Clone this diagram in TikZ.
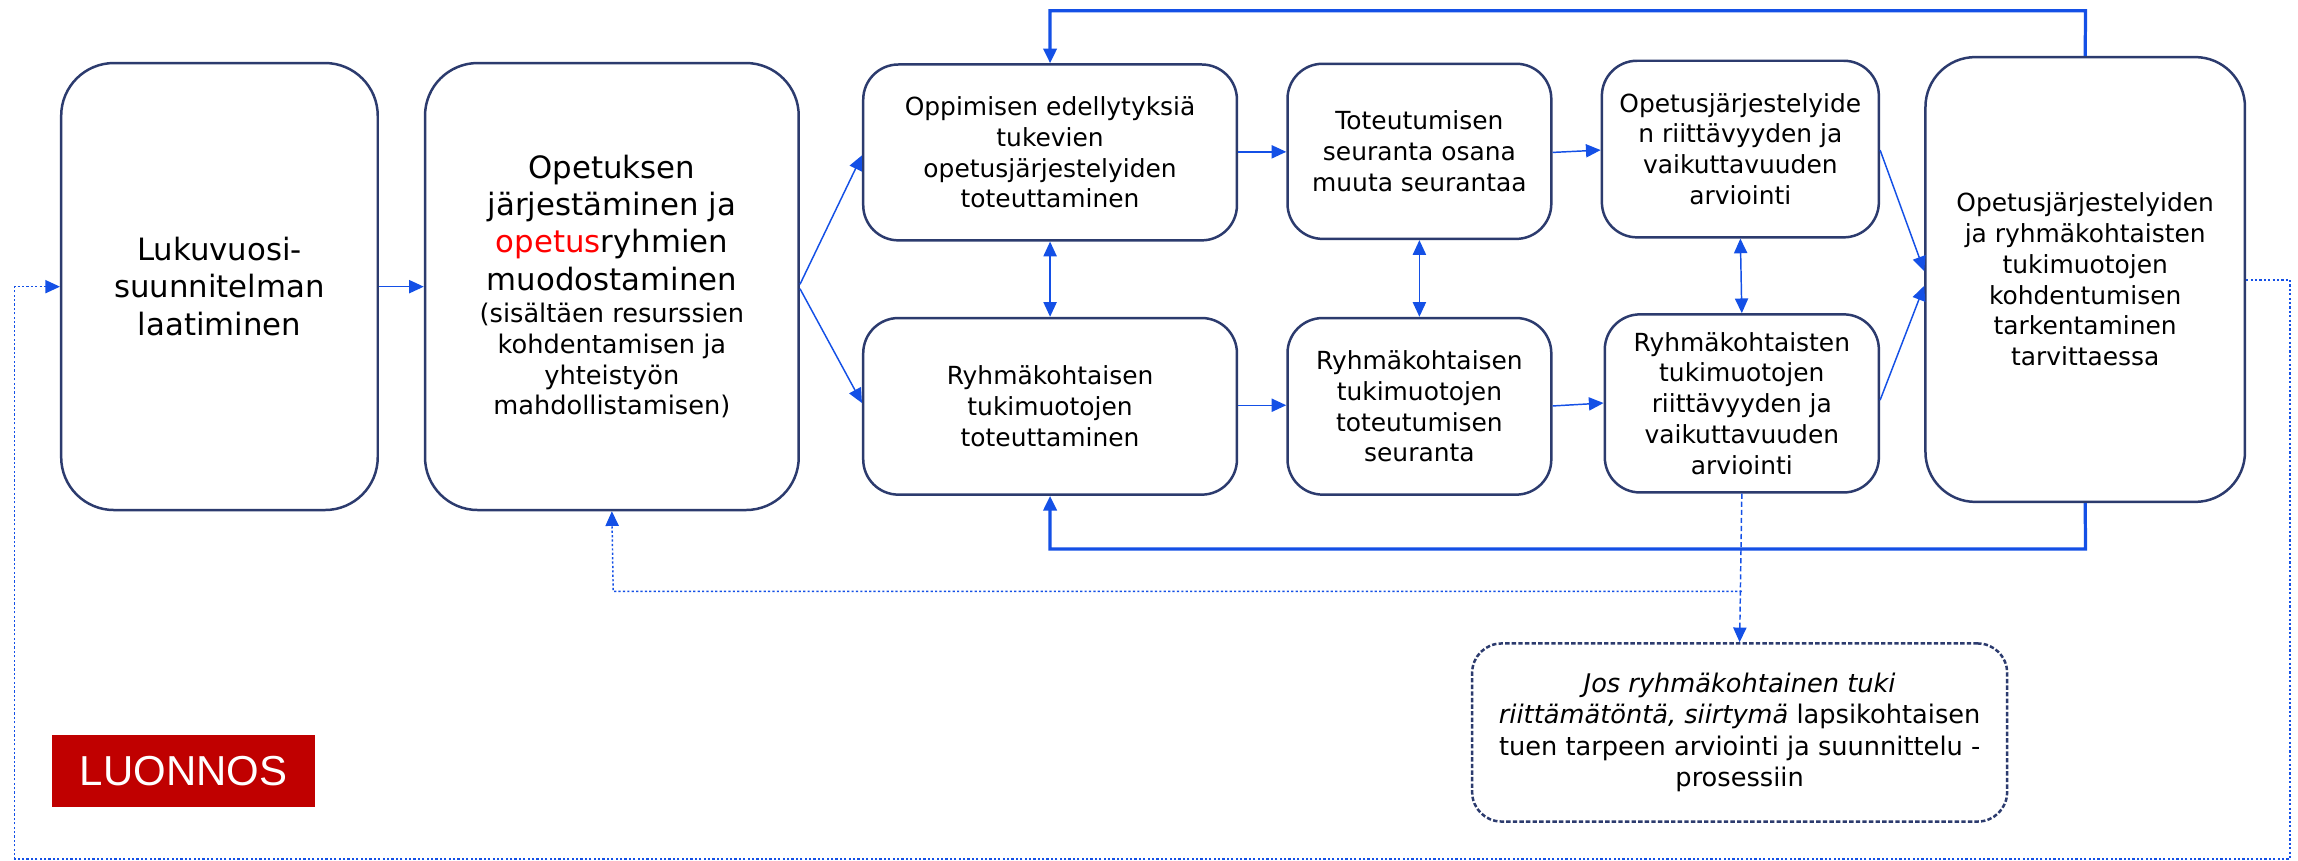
\documentclass[tikz,border=0pt]{standalone}
\usepackage{fontspec}
\setmainfont{DejaVu Sans}
\newfontfamily\arialf{Liberation Sans}
\usetikzlibrary{arrows.meta}
\definecolor{lineblue}{HTML}{1450E6}
\definecolor{boxnavy}{HTML}{2C3B6E}
\definecolor{draftred}{HTML}{C00000}
\tikzset{
  x=1pt, y=-1pt,
  boxbase/.style={draw=boxnavy, line width=1.7pt, fill=white, align=center, inner sep=0pt, anchor=center,
    font=\fontsize{17}{21}\selectfont},
  tallbox/.style={boxbase, rounded corners=34pt},
  smallbox/.style={boxbase, rounded corners=24pt},
  bigtextbox/.style={boxbase, rounded corners=36pt, font=\fontsize{21}{25.5}\selectfont},
  tip/.style={-{Triangle[length=10pt,width=9pt]}},
  thin/.style={draw=lineblue, line width=1pt, tip},
  both/.style={draw=lineblue, line width=1pt, {Triangle[length=10pt,width=9pt]}-{Triangle[length=10pt,width=9pt]}},
  loop/.style={draw=lineblue, line width=2.2pt},
  dots/.style={draw=lineblue, line width=1pt, dash pattern=on 1.5pt off 1.5pt},
  dashes/.style={draw=lineblue, line width=1pt, dash pattern=on 3.5pt off 2pt},
}
\begin{document}
\begin{tikzpicture}
\useasboundingbox (0,0) rectangle (1568,587);
\fill[white] (0,0) rectangle (1568,587);

% nodes
\node[bigtextbox, minimum width=216pt, minimum height=305pt] (b1) at (149.75,195.5)
  {Lukuvuosi-\\suunnitelman\\laatiminen};
\node[bigtextbox, minimum width=255pt, minimum height=305pt] (b2) at (417.5,195.5)
  {Opetuksen\\järjestäminen ja\\{\color{red}opetus}ryhmien\\muodostaminen\\[-3.5pt]
   {\fontsize{17.5}{21}\selectfont (sisältäen resurssien}\\[-4.5pt]
   {\fontsize{17.5}{21}\selectfont kohdentamisen ja}\\[-4.5pt]
   {\fontsize{17.5}{21}\selectfont yhteistyön}\\[-4.5pt]
   {\fontsize{17.5}{21}\selectfont mahdollistamisen)}};
\node[smallbox, minimum width=255pt, minimum height=120pt] (b3) at (716.5,104)
  {Oppimisen edellytyksiä\\tukevien\\opetusjärjestelyiden\\toteuttaminen};
\node[smallbox, minimum width=180pt, minimum height=119.5pt] (b4) at (968.5,103.25)
  {Toteutumisen\\seuranta osana\\muuta seurantaa};
\node[smallbox, minimum width=189pt, minimum height=120.5pt] (b5) at (1187.5,101.7)
  {Opetusjärjestelyide\\n riittävyyden ja\\vaikuttavuuden\\arviointi};
\node[tallbox, minimum width=218pt, minimum height=303.5pt] (b6) at (1422.8,190.7)
  {Opetusjärjestelyiden\\ja ryhmäkohtaisten\\tukimuotojen\\kohdentumisen\\tarkentaminen\\tarvittaessa};
\node[smallbox, minimum width=255pt, minimum height=120.5pt] (b7) at (716.5,277.25)
  {Ryhmäkohtaisen\\tukimuotojen\\toteuttaminen};
\node[smallbox, minimum width=180pt, minimum height=120.5pt] (b8) at (968.5,277.25)
  {Ryhmäkohtaisen\\tukimuotojen\\toteutumisen\\seuranta};
\node[smallbox, minimum width=187pt, minimum height=121.5pt] (b9) at (1188.5,275.25)
  {Ryhmäkohtaisten\\tukimuotojen\\riittävyyden ja\\vaikuttavuuden\\arviointi};
\node[boxbase, rounded corners=20pt, dash pattern=on 3pt off 1.5pt, minimum width=365pt, minimum height=121.5pt,
  font=\fontsize{17.5}{21.3}\selectfont] (b10) at (1187,499.8)
  {\textit{Jos ryhmäkohtainen tuki}\\\textit{riittämätöntä, siirtymä} lapsikohtaisen\\tuen tarpeen arviointi ja suunnittelu -\\prosessiin};
\node[fill=draftred, text=white, inner sep=0pt, minimum width=179.5pt, minimum height=49pt,
  font=\arialf\fontsize{28.6}{32}\selectfont] (draft) at (125.3,526) {LUONNOS};

% coordinates for connectors
\coordinate (tl) at (716.5,7.3);
\coordinate (tr) at (1423,7.3);
\coordinate (bl) at (716.5,374.6);
\coordinate (br) at (1423,374.6);
\coordinate (dj) at (1188.5,403.5);
\coordinate (dl) at (418.4,403.5);
\coordinate (o1) at (1562.6,191);
\coordinate (o2) at (1562.6,586);
\coordinate (o3) at (10,586);
\coordinate (o4) at (10,195.6);

% main arrows
\draw[thin] (b1.east |- 0,195.6) -- (b2.west |- 0,195.6);
\draw[thin] (b2.east |- 0,194) -- (b3.west |- 0,106);
\draw[thin] (b2.east |- 0,197) -- (b7.west |- 0,275);
\draw[thin] (b3.east |- 0,103.6) -- (b4.west |- 0,103.6);
\draw[thin] (b4.east |- 0,104) -- (b5.west |- 0,102.4);
\draw[thin] (b7.east |- 0,276.5) -- (b8.west |- 0,276.5);
\draw[thin] (b8.east |- 0,277) -- (b9.west |- 0,275);
\draw[thin] (b5.east |- 0,102.4) -- (b6.west |- 0,185);
\draw[thin] (b9.east |- 0,273) -- (b6.west |- 0,195);
\draw[both] (b3.south) -- (b7.north);
\draw[both] (b4.south) -- (b8.north);
\draw[both] (b5.south) -- (b9.north);

% loops
\draw[loop, tip] (b6.north) -- (tr) -- (tl) -- (b3.north);
\draw[loop, tip] (b6.south) -- (br) -- (bl) -- (b7.south);

% dashed / dotted
\draw[dashes, tip] (b9.south) -- (b10.north);
\draw[dots, tip] (dj) -- (dl) -- (b2.south);
\draw[dots, tip] (b6.east |- o1) -- (o1) -- (o2) -- (o3) -- (o4) -- (b1.west |- o4);
\end{tikzpicture}
\end{document}
